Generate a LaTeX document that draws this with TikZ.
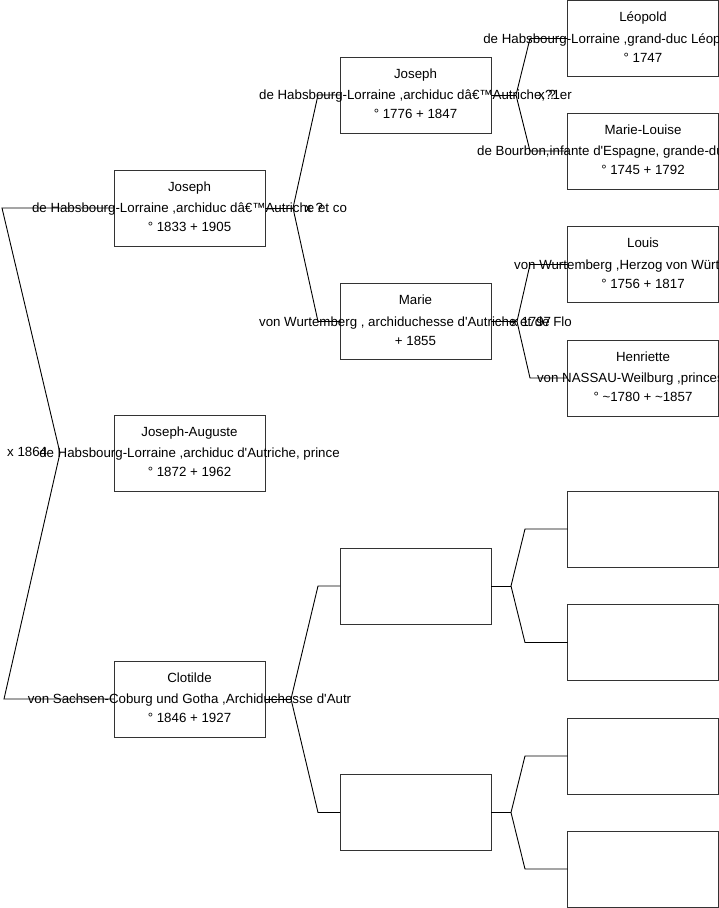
\documentclass[tikz,border=0pt]{standalone}
\usepackage{fontspec}
\newfontfamily\arialf{Liberation Sans}
\begin{document}
\begin{tikzpicture}[x=1pt,y=-1pt,
  box/.style={draw=black!80, line width=0.9pt, minimum width=151pt, minimum height=76pt, inner sep=0pt, outer sep=0pt},
  txt/.style={anchor=base, inner sep=0pt, font=\arialf\fontsize{13.3}{15}\selectfont},
  lbl/.style={anchor=base west, inner sep=0pt, font=\arialf\fontsize{13.3}{15}\selectfont},
  conn/.style={draw=black, line width=0.9pt}]
\clip (0,0) rectangle (719,908);
\fill[white] (0,0) rectangle (719,908);
\newcommand\pbox[6]{%
  \node[box] (#1) at (#2,#3) {};
  \node[txt] (#1a) at (#2,#3-17) {#4};
  \node[txt] (#1b) at (#2,#3+4.5) {#5};
  \node[txt] (#1c) at (#2,#3+23.5) {#6};
}
% generation 1
\pbox{J}{189.5}{208}{Joseph}{de Habsbourg-Lorraine ,archiduc dâ€™Autriche et co}{° 1833 + 1905}
\pbox{JA}{189.5}{453}{Joseph-Auguste}{de Habsbourg-Lorraine ,archiduc d'Autriche, prince}{° 1872 + 1962}
\pbox{C}{189.5}{699}{Clotilde}{von Sachsen-Coburg und Gotha ,Archiduchesse d'Autr}{° 1846 + 1927}
% generation 2
\pbox{GJ}{415.5}{95}{Joseph}{de Habsbourg-Lorraine ,archiduc dâ€™Autriche,?1er}{° 1776 + 1847}
\pbox{GM}{415.5}{321.5}{Marie}{von Wurtemberg , archiduchesse d'Autriche et de Flo}{+ 1855}
\node[box] (E1) at (415.5,586) {};
\node[box] (E2) at (415.5,812.5) {};
% generation 3
\pbox{L}{643}{38.5}{Léopold}{de Habsbourg-Lorraine ,grand-duc Léopold de Toscan}{° 1747}
\pbox{ML}{643}{151}{Marie-Louise}{de Bourbon,infante d'Espagne, grande-duchesse de Tos}{° 1745 + 1792}
\pbox{LW}{643}{264.5}{Louis}{von Wurtemberg ,Herzog von Württemberg.}{° 1756 + 1817}
\pbox{H}{643}{378}{Henriette}{von NASSAU-Weilburg ,princesse d}{° \textasciitilde 1780 + \textasciitilde 1857}
\node[box] (E3) at (643,529) {};
\node[box] (E4) at (643,642.5) {};
\node[box] (E5) at (643,756) {};
\node[box] (E6) at (643,869) {};
% marriage labels
\node[lbl] (m0) at (7,456) {x 1864};
\node[lbl] (m1) at (305,212.5) {x ?};
\node[lbl] (m2) at (538,99.5) {x ?};
\node[lbl] (m3) at (511,326) {x 1797};
% connector points
\coordinate (a0t) at (2,208);
\coordinate (a0) at (60,453);
\coordinate (a0b) at (4,699);
\coordinate (a1) at (293,208);
\coordinate (a1t) at (318,95);
\coordinate (a1b) at (318,321.5);
\coordinate (a2) at (291,699);
\coordinate (a2t) at (318,586);
\coordinate (a2b) at (318,812.5);
\coordinate (b1) at (516,95);
\coordinate (b1t) at (530,38.5);
\coordinate (b1b) at (530,151);
\coordinate (b2) at (517,321.5);
\coordinate (b2t) at (530,264.5);
\coordinate (b2b) at (530,378);
\coordinate (b3) at (511,586);
\coordinate (b3t) at (525,529);
\coordinate (b3b) at (525,642.5);
\coordinate (b4) at (511,812.5);
\coordinate (b4t) at (525,756);
\coordinate (b4b) at (525,869);
% connectors
\draw[conn] (J.west) -- (a0t) -- (a0) -- (a0b) -- (C.west);
\draw[conn] (J.east) -- (a1);
\draw[conn] (a1) -- (a1t) -- (GJ.west);
\draw[conn] (a1) -- (a1b) -- (GM.west);
\draw[conn] (C.east) -- (a2);
\draw[conn] (a2) -- (a2t) -- (E1.west);
\draw[conn] (a2) -- (a2b) -- (E2.west);
\draw[conn] (GJ.east) -- (b1);
\draw[conn] (b1) -- (b1t) -- (L.west);
\draw[conn] (b1) -- (b1b) -- (ML.west);
\draw[conn] (GM.east) -- (b2);
\draw[conn] (b2) -- (b2t) -- (LW.west);
\draw[conn] (b2) -- (b2b) -- (H.west);
\draw[conn] (E1.east) -- (b3);
\draw[conn] (b3) -- (b3t) -- (E3.west);
\draw[conn] (b3) -- (b3b) -- (E4.west);
\draw[conn] (E2.east) -- (b4);
\draw[conn] (b4) -- (b4t) -- (E5.west);
\draw[conn] (b4) -- (b4b) -- (E6.west);
\end{tikzpicture}
\end{document}
